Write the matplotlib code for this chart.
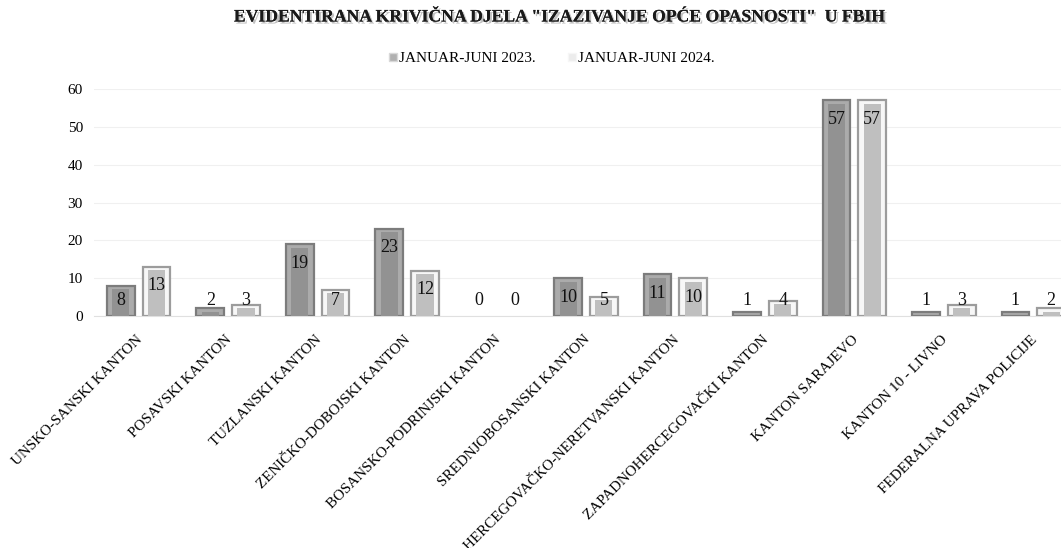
import matplotlib
matplotlib.use("Agg")
import matplotlib.pyplot as plt
import matplotlib.patheffects as pe
import matplotlib.transforms as mtransforms
from matplotlib.patches import Patch
import numpy as np

categories = ["UNSKO-SANSKI KANTON", "POSAVSKI KANTON", "TUZLANSKI KANTON",
              "ZENIČKO-DOBOJSKI KANTON", "BOSANSKO-PODRINJSKI KANTON",
              "SREDNJOBOSANSKI KANTON", "HERCEGOVAČKO-NERETVANSKI KANTON",
              "ZAPADNOHERCEGOVAČKI KANTON", "KANTON SARAJEVO", "KANTON 10 - LIVNO",
              "FEDERALNA UPRAVA POLICIJE"]
series_names = ["JANUAR-JUNI 2023.", "JANUAR-JUNI 2024."]
values_2023 = [8, 2, 19, 23, 0, 10, 11, 1, 57, 1, 1]
values_2024 = [13, 3, 7, 12, 0, 5, 10, 4, 57, 3, 2]
yticks = [0, 10, 20, 30, 40, 50, 60]
title = 'EVIDENTIRANA KRIVIČNA DJELA "IZAZIVANJE OPĆE OPASNOSTI"  U FBIH'

plt.rcParams['font.family'] = ['Liberation Serif', 'DejaVu Serif']

W, H = 1061, 548
fig = plt.figure(figsize=(W / 100, H / 100), dpi=100)
ax = fig.add_axes([94 / W, (H - 316) / H, 984 / W, (316 - 89) / H])

x = np.arange(len(categories))
bw = 0.31
off = 0.2
styles = [
    dict(edge="#7c7c7c", frame="#ababab", inner="#929292"),
    dict(edge="#9c9c9c", frame="#f7f7f7", inner="#bfbfbf"),
]
for i, (vals, st) in enumerate(zip([values_2023, values_2024], styles)):
    xs = x + (-off if i == 0 else off)
    vals = np.array(vals, dtype=float)
    lws = [1.6 if v > 0 else 0 for v in vals]
    ax.bar(xs, vals, width=bw, color=st["frame"], edgecolor=st["edge"],
           linewidth=lws, zorder=3)
    inner_h = np.clip(vals - 0.9, 0, None)
    ax.bar(xs, inner_h, width=bw * 0.62, color=st["inner"], linewidth=0,
           zorder=4)
    for xx, v in zip(xs, vals):
        ypos = max(v - 5.0, 4.2)
        ax.text(xx, ypos, f"{int(v)}", ha="center", va="center",
                fontsize=13, color="#111111", zorder=5)

ax.set_xlim(-0.5, len(categories) - 0.5)
ax.set_ylim(0, 60)
ax.set_yticks(yticks)
ax.set_yticklabels([str(t) for t in yticks], fontsize=11)
ax.tick_params(axis="y", length=0, pad=8)
ax.tick_params(axis="x", length=0, pad=0)
ax.set_xticks(x)
offset = mtransforms.ScaledTranslation(-3 / 100, -17 / 100, fig.dpi_scale_trans)
for lbl in ax.set_xticklabels(categories, rotation=45, ha="right", va="top",
                              rotation_mode="anchor", fontsize=10.8):
    lbl.set_transform(lbl.get_transform() + offset)
ax.grid(axis="y", color="#f0f0f0", linewidth=0.8, zorder=0)
for s in ["top", "right", "left"]:
    ax.spines[s].set_visible(False)
ax.spines["bottom"].set_color("#e0e0e0")
ax.spines["bottom"].set_zorder(1)

# title with shadow
fig.text(560 / W, 1 - 17 / H, title, ha="center", va="center",
         fontsize=12.7, fontweight="bold", color="#1a1a1a",
         path_effects=[pe.withSimplePatchShadow(offset=(1.5, -1.5),
                                                shadow_rgbFace="#999999",
                                                alpha=0.6), pe.Normal()])
# legend
handles = [Patch(facecolor="#b0b0b0", edgecolor="#d8d8d8"),
           Patch(facecolor="#ececec", edgecolor="#f6f6f6")]
fig.legend(handles, series_names, loc="center", bbox_to_anchor=(552 / W, 1 - 59 / H),
           ncol=2, frameon=False, fontsize=11, handlelength=0.5, handleheight=0.5,
           handletextpad=0.15, columnspacing=2.1)

fig.savefig("out.png", dpi=100)
